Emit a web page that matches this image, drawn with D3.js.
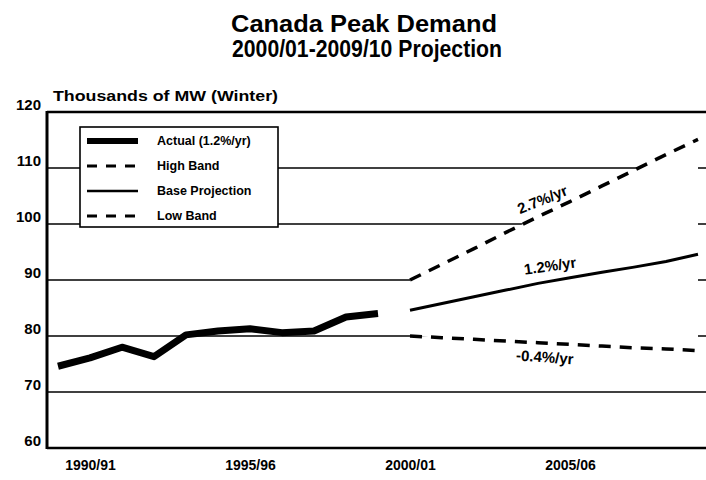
<!DOCTYPE html>
<html>
<head>
<meta charset="utf-8">
<script src="https://cdn.jsdelivr.net/npm/d3@7"></script>
<style>
  body { margin: 0; background: #fff; }
  svg { display: block; font-family: "Liberation Sans", Arial, sans-serif; }
</style>
</head>
<body>
<div id="wrapper"></div>
<script>
// 1. Data
const actualYears = [1989, 1990, 1991, 1992, 1993, 1994, 1995, 1996, 1997, 1998, 1999]
const actualValues = [74.6, 76.1, 78.0, 76.3, 80.2, 80.9, 81.3, 80.6, 80.9, 83.4, 84.0]

const projYears = [2000, 2001, 2002, 2003, 2004, 2005, 2006, 2007, 2008, 2009]
const baseValues = [84.6, 85.8, 87.0, 88.2, 89.4, 90.4, 91.4, 92.3, 93.3, 94.6]
const highValues = [90.0, 92.8, 95.6, 98.5, 101.3, 104.0, 106.8, 109.6, 112.4, 115.1]
const lowValues = [80.0, 79.7, 79.4, 79.1, 78.8, 78.5, 78.2, 77.9, 77.7, 77.4]

const xTickYears = [1990, 1995, 2000, 2005]
const xTickLabels = ["1990/91", "1995/96", "2000/01", "2005/06"]
const yTicks = [60, 70, 80, 90, 100, 110, 120]

const legendLabels = ["Actual (1.2%/yr)", "High Band", "Base Projection", "Low Band"]
const rateLabels = ["2.7%/yr", "1.2%/yr", "-0.4%/yr"]

// 2. Dimensions
const dimensions = {
  width: 706,
  height: 480,
  left: 47,
  right: 706,
  top: 112,
  bottom: 448,
}

// 3. Canvas
const svg = d3
  .select("#wrapper")
  .append("svg")
  .attr("width", dimensions.width)
  .attr("height", dimensions.height)

// 4. Scales
const xScale = d3.scaleLinear().domain([1989, 2009]).range([58, 698])
const yScale = d3.scaleLinear().domain([60, 120]).range([dimensions.bottom, dimensions.top])

// 5. Title
svg
  .append("text")
  .attr("x", 231)
  .attr("y", 32)
  .attr("textLength", 266)
  .attr("lengthAdjust", "spacingAndGlyphs")
  .style("font-size", "23px")
  .style("font-weight", "bold")
  .text("Canada Peak Demand")

svg
  .append("text")
  .attr("x", 232)
  .attr("y", 57)
  .attr("textLength", 270)
  .attr("lengthAdjust", "spacingAndGlyphs")
  .style("font-size", "23px")
  .style("font-weight", "bold")
  .text("2000/01-2009/10 Projection")

// 6. Gridlines
svg
  .append("g")
  .selectAll("line")
  .data(yTicks)
  .join("line")
  .attr("x1", dimensions.left)
  .attr("x2", dimensions.right)
  .attr("y1", (d) => yScale(d))
  .attr("y2", (d) => yScale(d))
  .style("stroke", "#000")
  .style("stroke-width", (d) => (d === 120 || d === 60 ? 2.5 : 1.6))

// white area between the bands hides the gridlines
const bandArea = d3
  .area()
  .x((d, i) => xScale(projYears[i]))
  .y0((d, i) => yScale(lowValues[i]))
  .y1((d) => yScale(d))

svg.append("path").datum(highValues).attr("d", bandArea).style("fill", "#fff")

// left axis line
svg
  .append("line")
  .attr("x1", dimensions.left)
  .attr("x2", dimensions.left)
  .attr("y1", dimensions.top - 1)
  .attr("y2", dimensions.bottom + 1)
  .style("stroke", "#000")
  .style("stroke-width", 3)

// 7. Axes labels
const yAxis = svg
  .append("g")
  .attr("transform", `translate(${dimensions.left - 6}, -7)`)
  .call(d3.axisLeft(yScale).tickValues(yTicks).tickSize(0).tickPadding(0))

yAxis.select(".domain").remove()
yAxis
  .selectAll("text")
  .style("font-size", "15px")
  .style("font-weight", "bold")
  .style("font-family", "Liberation Sans, Arial, sans-serif")
  .style("fill", "#000")

const xAxis = svg
  .append("g")
  .attr("transform", `translate(0, ${dimensions.bottom + 9})`)
  .call(
    d3
      .axisBottom(xScale)
      .tickValues(xTickYears)
      .tickFormat((d, i) => xTickLabels[i])
      .tickSize(0)
  )

xAxis.select(".domain").remove()
xAxis
  .selectAll("text")
  .style("font-size", "14px")
  .style("font-weight", "bold")
  .style("font-family", "Liberation Sans, Arial, sans-serif")
  .style("fill", "#000")

svg
  .append("text")
  .attr("x", 53)
  .attr("y", 101)
  .attr("textLength", 225)
  .attr("lengthAdjust", "spacingAndGlyphs")
  .style("font-size", "15px")
  .style("font-weight", "bold")
  .text("Thousands of MW (Winter)")

// 8. Lines
const actualLine = d3
  .line()
  .x((d, i) => xScale(actualYears[i]))
  .y((d) => yScale(d))

const projLine = d3
  .line()
  .x((d, i) => xScale(projYears[i]))
  .y((d) => yScale(d))

svg
  .append("path")
  .datum(actualValues)
  .attr("d", actualLine)
  .style("fill", "none")
  .style("stroke", "#000")
  .style("stroke-width", 7)
  .style("stroke-linejoin", "round")

svg
  .append("path")
  .datum(baseValues)
  .attr("d", projLine)
  .style("fill", "none")
  .style("stroke", "#000")
  .style("stroke-width", 3)

svg
  .selectAll(".band")
  .data([highValues, lowValues])
  .join("path")
  .attr("class", "band")
  .attr("d", projLine)
  .style("fill", "none")
  .style("stroke", "#000")
  .style("stroke-width", 3.5)
  .style("stroke-dasharray", "12 9")

// rate labels
const rateLabelPos = [
  { year: 2004.2, value: 103.5, angle: -22 },
  { year: 2004.4, value: 91.6, angle: -8 },
  { year: 2004.2, value: 75.3, angle: 4 },
]

svg
  .selectAll(".rate")
  .data(rateLabels)
  .join("text")
  .attr("class", "rate")
  .attr("transform", (d, i) => {
    const p = rateLabelPos[i]
    return `translate(${xScale(p.year)}, ${yScale(p.value)}) rotate(${p.angle})`
  })
  .attr("text-anchor", "middle")
  .style("font-size", "15px")
  .style("font-weight", "bold")
  .text((d) => d)

// 9. Legend
const legend = svg.append("g").attr("transform", "translate(80, 127)")

legend
  .append("rect")
  .attr("width", 198)
  .attr("height", 100)
  .style("fill", "#fff")
  .style("stroke", "#000")
  .style("stroke-width", 1.6)

const legendStyles = [
  { width: 6, dash: null },
  { width: 3, dash: "10 9" },
  { width: 2.5, dash: null },
  { width: 3, dash: "10 9" },
]

const legendItems = legend
  .selectAll(".item")
  .data(legendLabels)
  .join("g")
  .attr("class", "item")
  .attr("transform", (d, i) => `translate(0, ${14 + i * 25})`)

legendItems
  .append("line")
  .attr("x1", 7)
  .attr("x2", 58)
  .style("stroke", "#000")
  .style("stroke-width", (d, i) => legendStyles[i].width)
  .style("stroke-dasharray", (d, i) => legendStyles[i].dash)

legendItems
  .append("text")
  .attr("x", 77)
  .attr("y", 4)
  .style("font-size", "12.5px")
  .style("font-weight", "bold")
  .text((d) => d)
</script>
</body>
</html>
